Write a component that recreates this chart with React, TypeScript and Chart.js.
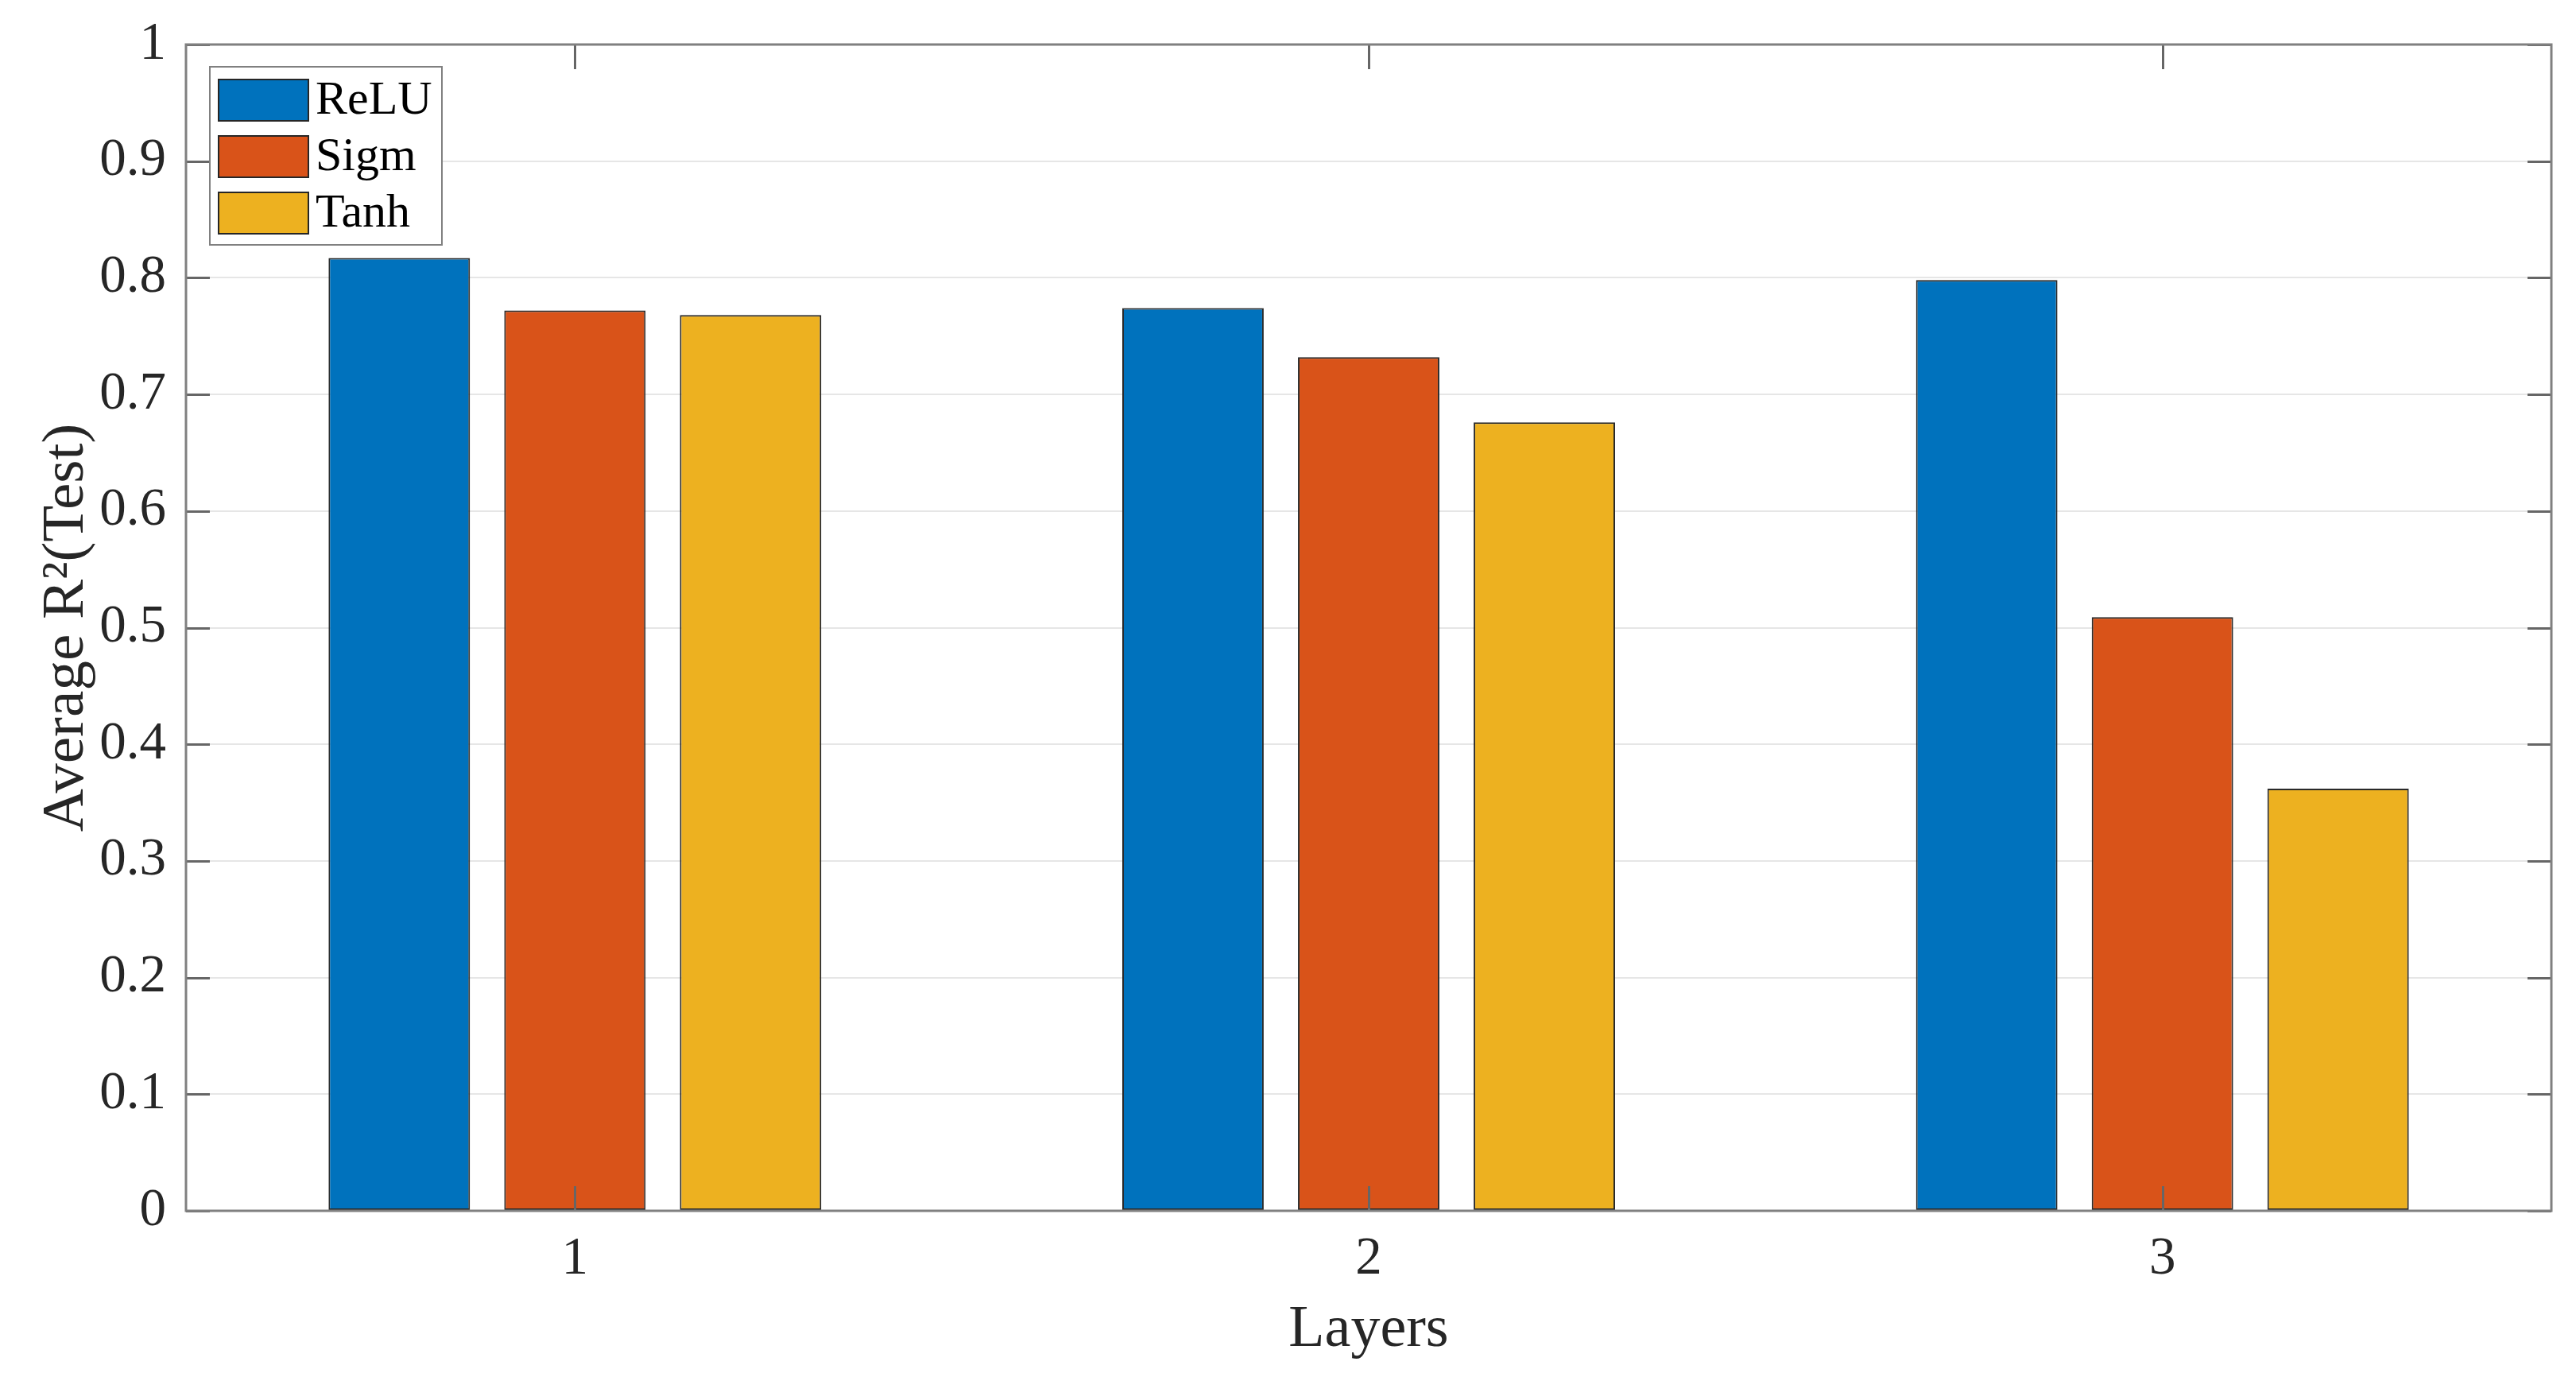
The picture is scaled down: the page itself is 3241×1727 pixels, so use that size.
import React, { useEffect, useRef } from "react";
import { Chart, registerables } from "chart.js";

Chart.register(...registerables);

// ---- Data ----
const categories = [1, 2, 3];
const seriesNames = ["ReLU", "Sigm", "Tanh"];
const reluValues = [0.817, 0.774, 0.798];
const sigmValues = [0.772, 0.732, 0.509];
const tanhValues = [0.768, 0.676, 0.362];
const seriesColors = ["#0072BD", "#D95319", "#EDB120"];
const yTickValues = [0, 0.1, 0.2, 0.3, 0.4, 0.5, 0.6, 0.7, 0.8, 0.9, 1];
const xLimits = [0.51, 3.49];
const xTitle = "Layers";
const yTitle = "Average R\u00B2(Test)";

const FONT = '"Liberation Serif"';
const W = 3241;
const H = 1727;

const framePlugin = {
  id: "matlabFrame",
  afterDatasetsDraw(chart: any) {
    const { ctx, chartArea } = chart;
    const { left, right, top, bottom } = chartArea;
    ctx.save();
    ctx.strokeStyle = "#666666";
    ctx.lineWidth = 3;
    const ys = chart.scales.y;
    ys.ticks.forEach((t: any) => {
      const py = Math.round(ys.getPixelForValue(t.value)) + 0.5;
      ctx.beginPath();
      ctx.moveTo(left, py);
      ctx.lineTo(left + 30, py);
      ctx.moveTo(right - 30, py);
      ctx.lineTo(right, py);
      ctx.stroke();
    });
    const xs = chart.scales.x;
    xs.ticks.forEach((t: any) => {
      const px = Math.round(xs.getPixelForValue(t.value)) + 0.5;
      ctx.beginPath();
      ctx.moveTo(px, bottom);
      ctx.lineTo(px, bottom - 31);
      ctx.moveTo(px, top);
      ctx.lineTo(px, top + 31);
      ctx.stroke();
    });
    ctx.strokeStyle = "#808080";
    ctx.lineWidth = 3;
    ctx.strokeRect(left, top, right - left, bottom - top);
    ctx.restore();
  },
};

const legendPlugin = {
  id: "insideLegend",
  afterDraw(chart: any) {
    const { ctx, chartArea } = chart;
    const x0 = chartArea.left + 30;
    const y0 = chartArea.top + 28;
    const w = 292;
    const h = 224;
    ctx.save();
    ctx.fillStyle = "#ffffff";
    ctx.fillRect(x0, y0, w, h);
    ctx.strokeStyle = "#808080";
    ctx.lineWidth = 2;
    ctx.strokeRect(x0, y0, w, h);
    chart.data.datasets.forEach((ds: any, i: number) => {
      const sy = y0 + 16 + i * 71;
      ctx.fillStyle = ds.backgroundColor;
      ctx.fillRect(x0 + 11, sy, 113, 52);
      ctx.strokeStyle = "#262626";
      ctx.lineWidth = 2;
      ctx.strokeRect(x0 + 11, sy, 113, 52);
      ctx.fillStyle = "#000000";
      ctx.font = `60px ${FONT}`;
      ctx.textAlign = "left";
      ctx.textBaseline = "middle";
      ctx.fillText(ds.label, x0 + 133, sy + 27);
    });
    ctx.restore();
  },
};

export default function App() {
  const canvasRef = useRef<HTMLCanvasElement | null>(null);

  useEffect(() => {
    if (!canvasRef.current) return;
    const seriesValues = [reluValues, sigmValues, tanhValues];
    const chart = new Chart(canvasRef.current, {
      type: "bar",
      data: {
        datasets: seriesNames.map((name, i) => ({
          label: name,
          data: categories.map((c, j) => ({ x: c, y: seriesValues[i][j] })),
          backgroundColor: seriesColors[i],
          borderColor: "#2a2a2a",
          borderWidth: 2,
          borderSkipped: false,
          categoryPercentage: 0.664,
          barPercentage: 0.805,
        })),
      },
      options: {
        responsive: false,
        animation: false,
        devicePixelRatio: 1,
        font: { family: FONT },
        layout: { padding: { left: 0, top: 56, right: 31, bottom: 0 } },
        plugins: {
          legend: { display: false },
          tooltip: { enabled: false },
        },
        scales: {
          x: {
            type: "linear",
            offset: false,
            min: xLimits[0],
            max: xLimits[1],
            afterBuildTicks: (scale: any) => {
              scale.ticks = categories.map((v) => ({ value: v }));
            },
            grid: { display: false, drawTicks: false, offset: false },
            border: { display: false },
            ticks: {
              color: "#262626",
              font: { family: FONT, size: 67 },
              padding: 21,
              maxRotation: 0,
              callback: (v: any) => String(v),
            },
            title: {
              display: true,
              text: xTitle,
              color: "#262626",
              font: { family: FONT, size: 74 },
              padding: { top: 0, bottom: 9 },
            },
            afterFit: (scale: any) => {
              scale.height = 204;
              scale.paddingLeft = 0;
              scale.paddingRight = 0;
            },
          },
          y: {
            type: "linear",
            min: 0,
            max: 1,
            afterBuildTicks: (scale: any) => {
              scale.ticks = yTickValues.map((v) => ({ value: v }));
            },
            grid: {
              color: "#e6e6e6",
              lineWidth: 2,
              drawTicks: false,
            },
            border: { display: false },
            ticks: {
              color: "#262626",
              font: { family: FONT, size: 67 },
              padding: 25,
              callback: (v: any) => String(+Number(v).toFixed(1)),
            },
            title: {
              display: true,
              text: yTitle,
              color: "#262626",
              font: { family: FONT, size: 75 },
              padding: { top: 39, bottom: 0 },
            },
            afterFit: (scale: any) => {
              scale.width = 234;
              scale.paddingTop = 0;
              scale.paddingBottom = 0;
            },
          },
        },
      },
      plugins: [framePlugin, legendPlugin],
    });
    let alive = true;
    const fonts: any = (document as any).fonts;
    if (fonts && fonts.load) {
      fonts
        .load(`67px ${FONT}`)
        .then(() => {
          if (alive) chart.update();
        })
        .catch(() => {});
    }
    return () => {
      alive = false;
      chart.destroy();
    };
  }, []);

  return (
    <div
      style={{
        position: "absolute",
        left: 0,
        top: 0,
        width: W,
        height: H,
        background: "#ffffff",
      }}
    >
      <canvas
        ref={canvasRef}
        width={W}
        height={H}
        style={{ display: "block", width: W, height: H }}
      />
    </div>
  );
}
